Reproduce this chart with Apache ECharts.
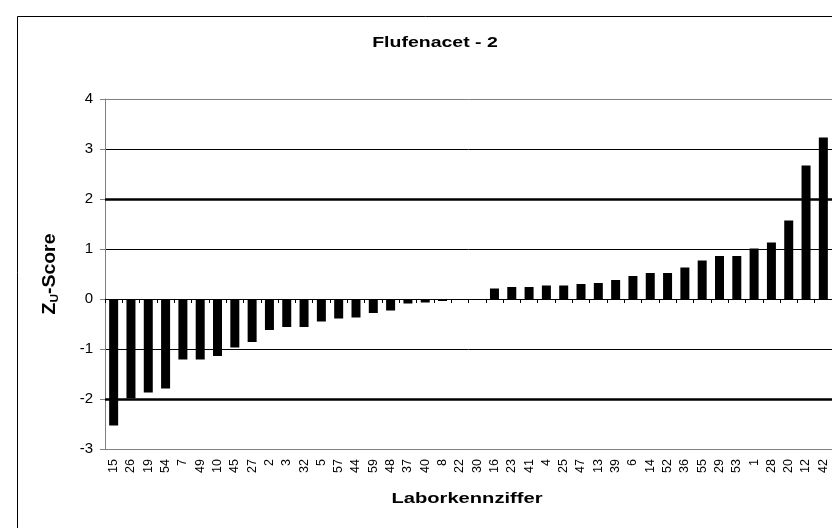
<!DOCTYPE html>
<html>
<head>
<meta charset="utf-8">
<script src="https://cdn.jsdelivr.net/npm/echarts@6/dist/echarts.min.js"></script>
<style>html,body{margin:0;padding:0;background:#fff;}#c{width:832px;height:528px;}</style>
</head>
<body>
<div id="c"></div>
<script>
const titleText = 'Flufenacet - 2';
const xName = 'Laborkennziffer';
const labs = ['15','26','19','54','7','49','10','45','27','2','3','32','5','57','44','59','48','37','40','8','22','30','16','23','41','4','25','47','13','39','6','14','52','36','55','29','53','1','28','20','12','42'];
const values = [-2.53,-1.99,-1.87,-1.79,-1.21,-1.21,-1.14,-0.97,-0.86,-0.62,-0.56,-0.56,-0.45,-0.39,-0.37,-0.28,-0.23,-0.09,-0.07,-0.04,-0.01,0,0.21,0.24,0.24,0.27,0.27,0.30,0.32,0.38,0.46,0.52,0.52,0.63,0.77,0.86,0.86,1.01,1.13,1.57,2.67,3.23];
const limitLines = [2, -2];
const yMin = -3, yMax = 4, yStep = 1;

const chart = echarts.init(document.getElementById('c'));
const F = 'Arial, "Liberation Sans", sans-serif';
chart.setOption({
  animation: false,
  backgroundColor: '#fff',
  grid: {left: 105, right: 0, top: 99, bottom: 79, containLabel: false},
  xAxis: [{
    type: 'category', data: labs, position: 'bottom',
    axisLine: {onZero: false, lineStyle: {color: '#808080', width: 1}},
    axisTick: {show: false},
    axisLabel: {rotate: 90, fontFamily: F, fontSize: 12.5, color: '#000', margin: 10, interval: 0},
    splitLine: {show: false}
  }, {
    type: 'category', data: labs, position: 'bottom',
    axisLine: {onZero: true, lineStyle: {color: '#000', width: 1}},
    axisTick: {show: true, length: 4, lineStyle: {color: '#000'}, interval: 0},
    axisLabel: {show: false},
    splitLine: {show: false}
  }],
  yAxis: {
    type: 'value', min: yMin, max: yMax, interval: yStep,
    axisLine: {show: true, lineStyle: {color: '#808080'}},
    axisTick: {show: true, length: 5, lineStyle: {color: '#808080'}},
    axisLabel: {fontFamily: F, fontSize: 15, color: '#000', margin: 12},
    splitLine: {show: true, lineStyle: {color: ['#808080','#000','#000','#000','#000','#000','#000','#808080'], width: 1}}
  },
  series: [{
    type: 'bar', data: values, xAxisIndex: 0, barWidth: 9,
    itemStyle: {color: '#000'},
    markLine: {
      silent: true, symbol: ['none','none'], label: {show: false},
      lineStyle: {color: '#000', width: 2.5, type: 'solid'},
      data: limitLines.map(v => ({yAxis: v}))
    }
  }],
  graphic: [
    {type: 'rect', shape: {x: 17.5, y: 16.5, width: 900, height: 600}, style: {fill: 'none', stroke: '#000', lineWidth: 1}, silent: true},
    {type: 'text', x: 435, y: 43, scaleX: 1.3, style: {text: titleText, font: 'bold 15px ' + F, fill: '#000', textAlign: 'center', textVerticalAlign: 'middle'}},
    {type: 'text', x: 467, y: 499, scaleX: 1.3, style: {text: xName, font: 'bold 15.5px ' + F, fill: '#000', textAlign: 'center', textVerticalAlign: 'middle'}},
    {type: 'text', x: 50, y: 274, rotation: Math.PI/2, scaleX: 1.08, style: {
      text: '{a|Z}{b|U}{a|-Score}', textAlign: 'center', textVerticalAlign: 'middle', fill: '#000',
      rich: {a: {fontFamily: F, fontWeight: 'bold', fontSize: 18, lineHeight: 20}, b: {fontFamily: F, fontWeight: 'bold', fontSize: 11, lineHeight: 20, verticalAlign: 'bottom', padding: [6,0,0,0]}}
    }}
  ]
});
</script>
</body>
</html>
